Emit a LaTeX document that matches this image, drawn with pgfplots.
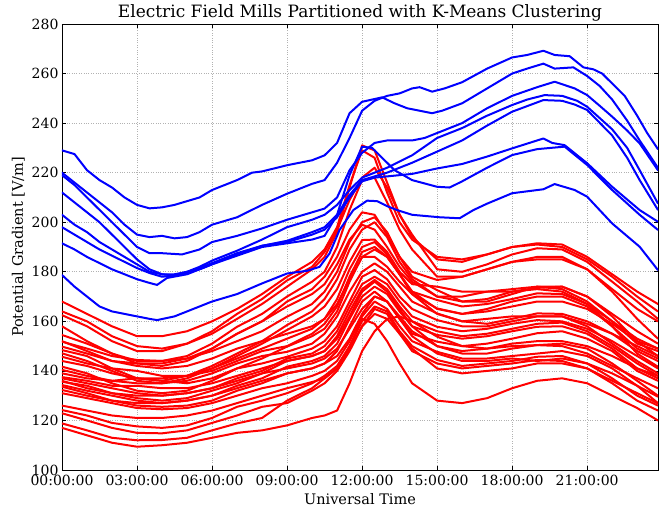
\documentclass[border=0pt]{standalone}
\usepackage{fontspec}
\setmainfont{DejaVu Serif}
\usepackage{pgfplots}
\usepackage{pgfplotstable}
\pgfplotsset{compat=1.18}

\pgfplotstableread{
name 0 1 2 3 4 5 6 7 8 9 10 10.5 11 11.5 12 12.5 13 13.5 14 15 16 17 18 19 20 21 22 23 23.83
r1 168 163 158 154 154 156 160 165 171 178 184 189 198 215 229 226 212 200 193 186 185 187 190 191.5 191 186 179 172 167
r2 164 160 154 150 149 151 155 161 167 174 181 186 196 214 231 229 216 203 194 185 184 187 190 191 190 185 178 170 164
r3 162.5 158 152 148 148 151 156 163 169 176.5 182 188 197 209 218 222 214 203 195 181 180 183 187 189.5 189 184 176 168 161
r4 154.5 151 147 144 144 146 151 157.8 163 170 176 180 190 205 217 218 208 197 189 178 178 181 184 186 186 181 172 161 153
r5 151.8 149 146 144.4 144 145 149 155 160 168 173 178 186 197 204 203 195 186 180 176.7 178 181 184 185 185 181 173 165 160
r6 149.8 147 144 143 143 145 148 152 156 161.9 167 172 180 192 200 202 196 186 178 172.6 168 168 171 174 174 170 163 156 151
r7 148.4 146 141 137 136 138 142 147 152 158.5 164 169 177 189 197 200 194 184 177 170 168 169 172 173.5 174 170 162 152 146
r8 147.1 144 140 136 135 137 141 146 151 156.5 162 166 173 184 192.8 193 188 180 175 174 172 172 172 173 172 167 160 153 149
r9 145.7 143 141 140 138 138 140 144 148 150 155 159 166 178 188 190 186 179 172 168.6 166 167 169 171.3 171 167 158 149 145
r10 141.7 139 135 132 131 132 136 141 145 149.8 154 157 164 176 186 186 182 176 171 165.2 163 165 168 170 170 166 158 147 141.7
r11 140.4 138 136 135 135 136 139 143 146 147.7 151 155 162 172 180 183.4 180 174 168 163.2 160 159 161 163.2 163 160 155 148 144
r12 139 137 136 137 136 135 137 141 143 145.7 149 152 158 168 178 180.7 177 170 165 160.5 158 158 160 162 162 158 151 144 139
r13 137 135 133 131 130 131 133 137 140 145 147 150 156 166 175 178 175 168 162 157.8 156 157 159 160.5 160 157 152 146 141
r14 135.6 134 131 129 128 129 132 135 139 144 146 148 154 164 173 176.7 173 166 160 156 154 155 157 159 159.5 156 150 143 138
r15 134.3 132 130 128 127 128 130 134 137 141.7 144 146 151 161 170 174 171 164 158 154.5 153 154 156 157.8 158 155 149 141 137
r16 133.6 131 128 126 125.5 126 128 132 135 139 141 143 148 158 168 172 168 161 155 151.8 150 151 153 155.2 156 153 148 140 136
r17 132.3 130 128 127 127 128 130 133 136 139 141 143 146 153 163 170 168 162 156 150 147 147 149 150.4 151 149 143 136 130
r18 131 129 127 125 124.5 125 127 130 133 135 138 140 144 152 162 168 165 158 152 147.7 145 145 146 147 148 146 141 134 127
r19 124.2 122 119 117.6 117 118 121 125.5 128 131 135 138 142 150 160 166 164 156 150 144.4 142 143 144 145.7 146 143 137 130 126
r20 122.9 120 117 115 114.8 116 119 122 125.5 127 132 135 140 148 158 165 163 155 148 143 141 142 143 144.4 144 141 135 128 124
r21 117 114 111 109.4 110 111 113 115 116 118 121 122 124 135 148 156 161 162 160 153.8 150 149 150 150.4 150 147 142 137 133
r22 118.8 116 113 112 112.1 113 116 118.8 121 128 133 137 141 150 161 159 152 143 135 128 127 129 133 136 137 135 130 125 120
r23 158 152 147 143 142 144 149 155 160 166 171 175 183 193 199 197 190 182 176 170 170 172 173 174 173 168 160 151 148
r24 137.5 136 134 134 133 133 135 138 141 144 146 148 153 162 172 176 172 165 158 150 148 149 151 152 152 150 146 141 138
r25 136 133 131 130 130 131 133 136 139 141 143 145 149 157 165 170 168 161 154 147 144 144 145 144 145 143 139 134 129.6
r26 152 148 144 142 141 142 145 149 152 155 158 161 167 177 186 189 186 179 171 163 160 161 162 162 162 159 155 150 146
r27 126 124 122 121 121 122 124 127 130 133 135.5 137 141 149 158 163 161 155 149 141 139 140 141 143 143 141 136 131 126.9
r28 144 142 139 137 137 138 141 145 149 153 157 161 169 181 190 192 187 179 172 165 163 164 166 168 168 165 159 152 149
}\redraw
\pgfplotstabletranspose[colnames from=name]\redtab\redraw

\begin{document}
\begin{tikzpicture}
\begin{axis}[
  at={(0pt,0pt)}, anchor=south west,
  width=596pt, height=446pt, scale only axis,
  xmin=0, xmax=23.8333, ymin=100, ymax=280,
  xtick={0,3,6,9,12,15,18,21},
  xticklabels={00:00:00,03:00:00,06:00:00,09:00:00,12:00:00,15:00:00,18:00:00,21:00:00},
  ytick={100,120,...,280},
  grid=major,
  major grid style={dotted, black!30, line width=0.7pt},
  tick align=inside, tick pos=both,
  major tick length=4pt,
  tick style={black, line width=0.6pt},
  axis line style={black, line width=0.8pt},
  title={Electric Field Mills Partitioned with K-Means Clustering},
  title style={font=\fontsize{17}{19}\selectfont, yshift=-7pt},
  xlabel={Universal Time},
  ylabel={Potential Gradient [V/m]},
  label style={font=\fontsize{14.5}{16}\selectfont},
  xlabel style={yshift=0pt},
  tick label style={font=\fontsize{14}{15}\selectfont},
  xticklabel style={yshift=-2pt},
  /pgf/number format/assume math mode=true,
  every axis plot/.append style={line width=2pt, line join=round, line cap=round},
]
\pgfplotsinvokeforeach{1,...,28}{
  \addplot[red, no markers] table[x=colnames, y=r#1]{\redtab};
}
% blue A
\addplot[blue, no markers] coordinates {(0,229) (0.5,227.5) (1,221) (1.5,217) (2,214) (2.5,210) (3,207) (3.5,205.6) (4,206) (4.5,207) (5,208.5) (5.5,210) (6,213) (7,217) (7.6,220) (8,220.5) (9,223) (10,225) (10.5,227) (11,232) (11.5,244) (12,248.6) (12.8,250.4) (13.3,248) (13.8,246) (14.3,245) (14.8,244) (15.2,245) (16,248) (17,254) (18,260) (18.6,262) (19.25,264) (19.7,262) (20.45,262.5) (21,259) (21.5,255) (22,249.5) (22.6,241) (23.1,233) (23.83,222)};
% blue B
\addplot[blue, no markers] coordinates {(0,220) (0.5,216) (1,212) (1.5,208) (2,204) (2.5,199) (3,195) (3.5,194) (4,194.5) (4.5,193.5) (5,194) (5.5,196) (6,199) (7,202) (7.5,204.5) (8,207) (9,211.5) (10,215.5) (10.5,217) (11,224) (11.5,234) (12,245) (12.5,249) (13,251) (13.5,252) (14,254) (14.3,254.5) (14.8,252.7) (15.3,254) (16,256.5) (17,262) (18,266.5) (18.6,267.5) (19.25,269.2) (19.7,267.5) (20.3,267) (20.85,262.5) (21.25,261.7) (21.6,260) (22,256) (22.5,251) (23,243) (23.4,236) (23.83,229.5)};
% blue C
\addplot[blue, no markers] coordinates {(0,219) (0.5,215) (1,210) (1.5,205) (2,200) (2.5,195) (3,190) (3.5,187.5) (4,187.5) (4.8,187) (5.5,189) (6,192) (7,194.5) (8,197.5) (9,201) (10,204) (10.5,205.5) (11,210) (11.5,221) (12,228) (12.5,232) (13,233) (14,233) (14.5,234) (15,236) (16,240) (17,246) (18,251) (19,254.5) (19.7,256.7) (20.5,254) (21,251.3) (21.5,247) (22,242.6) (22.6,237) (23.1,231.8) (23.83,221)};
% blue D
\addplot[blue, no markers] coordinates {(0,212) (0.5,208) (1,204) (1.5,200) (2,195) (2.5,190) (3,185) (3.5,181) (4,179) (4.5,179) (5,180) (5.5,182) (6,184.5) (7,188.5) (8,193) (9,198) (10,201) (10.5,203) (11,207) (11.5,213) (12,218) (12.5,220) (13,222) (14,227) (15,234) (16,238) (17,243) (18,247.3) (18.6,249.5) (19.3,251.3) (20,251) (20.6,249) (21,246.6) (22,237.5) (22.6,230) (23.1,221) (23.83,207.6)};
% blue E
\addplot[blue, no markers] coordinates {(0,203) (0.5,199) (1,196) (1.5,192) (2,189) (2.5,186) (3,183) (3.5,180) (4,179) (4.5,178.5) (5,180) (5.5,181) (6,183) (7,187) (8,190.5) (9,192.5) (10,196) (10.5,198) (11,203) (11.5,211) (12,217) (12.5,218.5) (13,220) (14,224) (15,228.5) (16,233) (17,239) (18,244.6) (19.25,249.3) (20,249) (20.5,247.5) (21,245.3) (22,235) (22.6,226) (23.1,217) (23.83,205)};
% blue F
\addplot[blue, no markers] coordinates {(0,198) (0.5,195) (1,192) (1.5,189) (2,186.5) (2.5,184) (3,181.5) (3.5,179.5) (4,178) (4.5,178.5) (5,179.5) (5.5,181.5) (6,183.5) (7,187.5) (8,190.5) (9,192) (10,195) (10.5,197) (11,202) (11.5,210) (12,216.5) (12.5,218) (13,218.5) (14,219.5) (15,221.7) (16,223.5) (17,226.5) (18,229.8) (19.25,233.8) (19.6,232) (20.1,231.1) (21,223.8) (22,214.3) (23.1,204.9) (23.83,200.2)};
% blue G
\addplot[blue, no markers] coordinates {(0,191.5) (0.5,189) (1,186) (1.5,183.5) (2,181) (2.5,179) (3,177) (3.5,175.5) (3.8,174.7) (4.2,177.5) (5,179) (5.5,181) (6,183) (7,186.5) (8,190) (9,191.5) (10,193) (10.5,194.5) (11,203) (11.5,219) (12,230.5) (12.4,230) (12.8,226) (13.3,221) (14,217) (15,214.3) (15.5,214) (16,216.5) (17,222) (18,227.1) (19,229.5) (20.1,230.5) (21,223.1) (22,213) (23.1,203) (23.83,196.9)};
% blue H
\addplot[blue, no markers] coordinates {(0,178.7) (0.5,174) (1,170) (1.5,166) (2,164) (2.5,163) (3,162) (3.5,161) (3.8,160.5) (4.5,162) (5,164) (5.5,166) (6,168) (7,171) (8,175.3) (9,179.3) (9.8,180.4) (10.3,182) (10.7,187.4) (11.1,196.9) (11.65,204.9) (12.2,208.7) (12.6,208.5) (13,206.5) (13.4,204.9) (14,203) (15.1,202) (15.9,201.6) (16.45,204.9) (17,207.5) (18,211.7) (19.25,213.3) (19.7,215.4) (20.5,213) (21,210.3) (22,199.5) (23.1,190.1) (23.83,180.7)};
\end{axis}
\pgfresetboundingbox
\useasboundingbox (-62pt,-42pt) rectangle (604pt,470pt);
\end{tikzpicture}
\end{document}
